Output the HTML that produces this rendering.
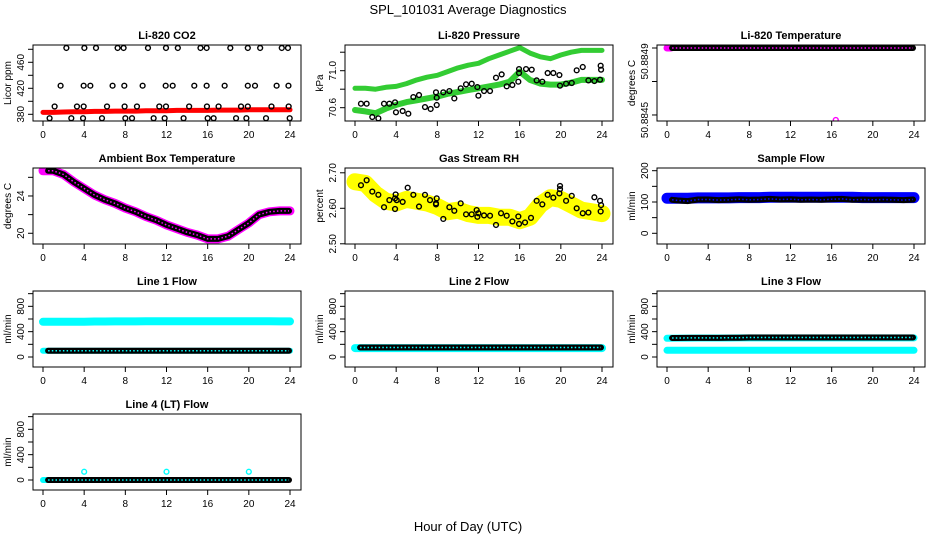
<!DOCTYPE html>
<html><head><meta charset="utf-8"><style>
html,body{margin:0;padding:0;background:#fff;}
svg{display:block;font-family:"Liberation Sans",Arial,sans-serif;}
</style></head><body>
<svg id="chart" width="936" height="540" viewBox="0 0 936 540" xmlns="http://www.w3.org/2000/svg">
<text x="468" y="14" text-anchor="middle" font-size="13">SPL_101031  Average Diagnostics</text>
<text x="468" y="531" text-anchor="middle" font-size="13">Hour of Day (UTC)</text>
</svg>
<script>
const hours=[0,1,2,3,4,5,6,7,8,9,10,11,12,13,14,15,16,17,18,19,20,21,22,23,24];
const hoursB=[0.5,1,2,3,4,5,6,7,8,9,10,11,12,13,14,15,16,17,18,19,20,21,22,23,23.9];
const xTicks=[0,4,8,12,16,20,24];
// CO2
const co2Red=[383,383,383.5,384,384,384.5,384.5,385,385,385,385.5,385.5,385.5,386,386,386,386,386.5,386.5,386.5,387,387,387,387,387];
const co2T=[2.27,4.02,5.15,7.25,7.83,10.2,11.95,13.1,15.3,15.9,18.2,19.9,21.1,23.2,23.8,
1.71,3.95,4.6,6.76,7.9,9.68,11.92,12.6,14.7,15.9,17.65,19.9,20.6,22.7,23.85,
1.13,3.3,3.95,6.22,7.93,9.13,11.3,11.95,14.2,15.93,17.06,19.24,19.9,22.2,23.87,
0.64,2.75,3.89,5.73,8.0,8.65,10.75,11.82,13.66,16.0,16.58,18.76,19.76,21.67,23.97];
const co2V=[482,482,482,482,482,482,482,482,482,482,482,482,482,482,482,
424,424,424,424,424,424,424,424,424,424,424,424,424,424,424,
392,392,392,392,392,392,392,392,392,392,392,392,392,392,392,
374,374,374,374,374,374,374,374,374,374,374,374,374,374,374];
// Pressure
const presUpper=[70.81,70.81,70.80,70.82,70.83,70.86,70.90,70.93,70.95,70.99,71.03,71.06,71.08,71.13,71.17,71.21,71.25,71.19,71.15,71.13,71.17,71.20,71.22,71.22,71.22];
const presLower=[70.575,70.56,70.54,70.59,70.63,70.66,70.68,70.70,70.72,70.75,70.77,70.79,70.81,70.83,70.85,70.88,70.99,70.90,70.86,70.85,70.85,70.87,70.90,70.90,70.90];
const presT=[0.58,1.13,1.68,2.27,2.82,3.34,3.89,3.98,4.63,5.18,5.67,6.22,6.8,7.35,7.87,7.94,7.94,8.58,9.17,9.65,10.27,10.79,11.34,11.89,11.99,12.54,13.12,13.7,14.25,14.74,15.29,15.87,15.94,15.94,16.62,17.17,17.65,18.2,18.72,19.27,19.86,19.92,20.51,21.06,21.54,22.13,22.68,23.26,23.81,23.87,23.91];
const presV=[70.643,70.643,70.499,70.485,70.643,70.643,70.658,70.55,70.564,70.535,70.715,70.737,70.607,70.586,70.766,70.629,70.708,70.766,70.78,70.70,70.809,70.852,70.859,70.823,70.73,70.78,70.78,70.924,70.96,70.831,70.845,70.881,71.018,70.975,71.018,71.011,70.895,70.881,70.975,70.975,70.953,70.838,70.859,70.867,71.004,71.04,70.895,70.888,70.903,71.054,71.011];
// Li-820 temperature
const tempLi=[50.8849,50.8849,50.8849,50.8849,50.8849,50.8849,50.8849,50.8849,50.8849,50.8849,50.8849,50.8849,50.8849,50.8849,50.8849,50.8849,50.8849,50.8849,50.8849,50.8849,50.8849,50.8849,50.8849,50.8849,50.8849];
const tempOutT=[16.4];
const tempOutV=[50.88447];
// Ambient
const ambient=[26.7,26.7,26.3,25.5,24.8,24.1,23.6,23.2,22.7,22.3,21.8,21.4,20.9,20.5,20.1,19.8,19.4,19.4,19.7,20.4,21.1,22.0,22.3,22.4,22.4];
// RH
const rhBand=[2.675,2.67,2.64,2.62,2.615,2.625,2.62,2.615,2.605,2.59,2.595,2.585,2.58,2.58,2.575,2.575,2.565,2.575,2.61,2.63,2.625,2.61,2.595,2.59,2.585];
const rhT=[0.58,1.13,1.68,2.27,2.82,3.34,3.89,3.95,3.89,4.05,4.63,5.12,5.67,6.22,6.8,7.29,7.87,7.94,7.87,8.58,9.17,9.65,10.27,10.79,11.34,11.82,11.89,11.99,12.54,13.12,13.7,14.19,14.74,15.29,15.87,15.94,16.52,17.1,17.65,18.2,18.72,19.27,19.86,19.92,19.92,20.51,21.06,21.54,22.13,22.68,23.26,23.81,23.87,23.91];
const rhV=[2.665,2.679,2.647,2.638,2.603,2.623,2.628,2.639,2.598,2.623,2.618,2.658,2.638,2.605,2.638,2.623,2.614,2.628,2.611,2.570,2.603,2.593,2.614,2.583,2.583,2.595,2.576,2.586,2.580,2.579,2.553,2.586,2.579,2.563,2.577,2.556,2.560,2.573,2.621,2.611,2.638,2.630,2.642,2.654,2.663,2.621,2.635,2.600,2.586,2.588,2.631,2.621,2.591,2.609];
// Flows
const sampleBlue=[112,112,112,113,113,113,113,114,114,114,115,115,115,115,115,115,115,115,115,114,114,114,114,114,114];
const sampleBlack=[107,105,103,108,108,106,107,109,107,108,110,108,109,107,108,107,109,110,107,108,107,108,107,106,108];
const line1Upper=[555,555,556,558,558,560,560,562,562,562,563,563,563,563,564,564,564,564,564,563,563,563,563,562,562];
const line1Lower=[100,100,100,100,100,100,100,100,100,100,100,100,100,100,100,100,100,100,100,100,100,100,100,100,100];
const line1Black=[100,100,100,100,100,100,100,100,100,100,100,100,100,100,100,100,100,100,100,100,100,100,100,100,100];
const line2Cyan=[140,140,140,140,140,140,140,140,140,140,140,140,140,140,140,140,140,140,140,140,140,140,140,140,140];
const line2Black=[150,150,150,150,150,150,150,150,150,150,150,150,150,150,150,150,150,150,150,150,150,150,150,150,150];
const line3Upper=[295,298,298,300,300,300,300,302,302,302,302,302,302,302,302,302,302,302,302,302,302,302,302,302,302];
const line3Lower=[105,105,105,105,105,105,105,105,105,105,105,105,105,105,105,105,105,105,105,105,105,105,105,105,105];
const line3Black=[300,300,302,302,302,302,305,305,308,308,308,308,308,308,308,308,308,308,308,308,308,308,308,308,308];
const line4Cyan=[0,0,0,0,0,0,0,0,0,0,0,0,0,0,0,0,0,0,0,0,0,0,0,0,0];
const line4Black=[0,0,0,0,0,0,0,0,0,0,0,0,0,0,0,0,0,0,0,0,0,0,0,0,0];
const line4OutT=[4,12,20];
const line4OutV=[130,130,130];

const svg=document.getElementById('chart');
const NS='http://www.w3.org/2000/svg';
const colLeft=[33,345,657], rowTop=[45,168,291,414], BW=268, BH=76;
function mk(tag,attrs,parent){const e=document.createElementNS(NS,tag);for(const k in attrs)e.setAttribute(k,attrs[k]);(parent||svg).appendChild(e);return e;}

function panel(cfg){
  const g=mk('g',{});
  
  
  const L=colLeft[cfg.col], T=rowTop[cfg.row], R=L+BW, B=T+BH;
  const x0=L+10, x24=L+257;
  const X=h=>x0+(x24-x0)*h/24;
  const Y=v=>B-(v-cfg.ymin)/(cfg.ymax-cfg.ymin)*BH;
  const t=mk('text',{x:(L+R)/2,y:T-6,'text-anchor':'middle','font-size':11,'font-weight':'bold'},g);
  t.textContent=cfg.title;
  
  
  const yl=mk('text',{transform:`translate(${L-22},${(T+B)/2}) rotate(-90)`,'text-anchor':'middle','font-size':10},g);
  yl.textContent=cfg.ylab;
  
  
  cfg.yTicks.forEach(v=>{const y=Y(v);const tk=mk('line',{x1:L-5,x2:L,y1:y,y2:y,stroke:'#000','stroke-width':1},g);
    
    });
  cfg.yLabels.forEach((s,i)=>{const y=Y(cfg.yLabelVals[i]);const tl=mk('text',{transform:`translate(${L-9},${y}) rotate(-90)`,'text-anchor':'middle','font-size':10},g);
    tl.textContent=s;
    
    });
  xTicks.forEach(h=>{const x=X(h);const tk=mk('line',{x1:x,x2:x,y1:B,y2:B+5,stroke:'#000','stroke-width':1},g);
    
    
    const tl=mk('text',{x:x,y:B+17,'text-anchor':'middle','font-size':10},g);
    tl.textContent=h;
    
    });
  const clipId='c'+cfg.col+cfg.row;
  const cp=mk('clipPath',{id:clipId},g);mk('rect',{x:L,y:T,width:BW,height:BH},cp);
  const pg=mk('g',{'clip-path':`url(#${clipId})`},g);
  
  
  (cfg.bands||[]).forEach(bd=>{
    const pts=bd.t.map((h,i)=>X(h).toFixed(1)+','+Y(bd.v[i]).toFixed(1)).join(' ');
    const pl=mk('polyline',{points:pts,fill:'none',stroke:bd.color,'stroke-width':bd.w,'stroke-linejoin':'round','stroke-linecap':'round'},pg);
    
    
  });
  (cfg.chains||[]).forEach(ch=>{
    const pts=ch.t.map((h,i)=>X(h).toFixed(1)+','+Y(ch.v[i]).toFixed(1)).join(' ');
    const pl=mk('polyline',{points:pts,fill:'none',stroke:'#000','stroke-width':6,'stroke-linecap':'round'},pg);
    
    
    const pw=mk('polyline',{points:pts,fill:'none',stroke:ch.inner||'#fff','stroke-width':1.5,'stroke-dasharray':'1.5 2.2'},pg);
    
    
  });
  (cfg.points||[]).forEach(ps=>{
    ps.t.forEach((h,i)=>{const c=mk('circle',{cx:X(h),cy:Y(ps.v[i]),r:2.4,fill:'none',stroke:ps.color,'stroke-width':1.4},pg);
      
      });
  });
  const box=mk('rect',{x:L,y:T,width:BW,height:BH,fill:'none',stroke:'#000','stroke-width':1},g);
  
  
}
const flowTicks=[0,200,400,600,800,1000];
const flowCommon={ymin:-158,ymax:1042,ylab:'ml/min',yTicks:flowTicks,yLabels:['0','400','800'],yLabelVals:[0,400,800]};

panel({name:'co2-panel',col:0,row:0,title:'Li-820 CO2',ylab:'Licor ppm',ymin:369.7,ymax:486.6,yTicks:[380,400,420,440,460,480],yLabels:['380','420','460'],yLabelVals:[380,420,460],
  bands:[{name:'co2-red-band',t:hours,v:co2Red,color:'#ff0000',w:5}],
  points:[{name:'co2-point',t:co2T,v:co2V,color:'#000'}]});
panel({name:'pressure-panel',col:1,row:0,title:'Li-820 Pressure',ylab:'kPa',ymin:70.456,ymax:71.278,yTicks:[70.6,70.8,71.0,71.2],yLabels:['70.6','71.0'],yLabelVals:[70.6,71.0],
  bands:[{name:'pressure-upper-band',t:hours,v:presUpper,color:'#33cc33',w:5},{name:'pressure-lower-band',t:hours,v:presLower,color:'#33cc33',w:6}],
  points:[{name:'pressure-point',t:presT,v:presV,color:'#000'}]});
panel({name:'li820-temperature-panel',col:2,row:0,title:'Li-820 Temperature',ylab:'degrees C',ymin:50.884464,ymax:50.884918,yTicks:[50.8849,50.8847,50.8845],yLabels:['50.8849','50.8845'],yLabelVals:[50.88482,50.88447],
  bands:[{name:'temperature-magenta-band',t:[0,0.4],v:[50.8849,50.8849],color:'#ff00ff',w:7}],
  chains:[{name:'temperature-chain',t:hoursB,v:tempLi,inner:'#ff00ff'}],
  points:[{name:'temperature-outlier',t:tempOutT,v:tempOutV,color:'#ff00ff'}]});
panel({name:'ambient-panel',col:0,row:1,title:'Ambient Box Temperature',ylab:'degrees C',ymin:18.85,ymax:27.0,yTicks:[20,22,24,26],yLabels:['20','24'],yLabelVals:[20,24],
  bands:[{name:'ambient-magenta-band',t:hours,v:ambient,color:'#ff00ff',w:9}],
  chains:[{name:'ambient-chain',t:hoursB,v:ambient,inner:'#ff00ff'}]});
panel({name:'rh-panel',col:1,row:1,title:'Gas Stream RH',ylab:'percent',ymin:2.4994,ymax:2.7135,yTicks:[2.5,2.6,2.7],yLabels:['2.50','2.60','2.70'],yLabelVals:[2.5,2.6,2.7],
  bands:[{name:'rh-yellow-band',t:hours,v:rhBand,color:'#ffff00',w:17}],
  points:[{name:'rh-point',t:rhT,v:rhV,color:'#000'}]});
panel({name:'sample-flow-panel',col:2,row:1,title:'Sample Flow',ylab:'ml/min',ymin:-34.2,ymax:208.6,yTicks:[0,50,100,150,200],yLabels:['0','100','200'],yLabelVals:[0,100,200],
  bands:[{name:'sample-blue-band',t:hours,v:sampleBlue,color:'#0000ff',w:11}],
  chains:[{name:'sample-chain',t:hoursB,v:sampleBlack,inner:'#0000ff'}]});
panel(Object.assign({name:'line1-panel',col:0,row:2,title:'Line 1 Flow',
  bands:[{name:'line1-upper-band',t:hours,v:line1Upper,color:'#00ffff',w:8},{name:'line1-lower-band',t:hours,v:line1Lower,color:'#00ffff',w:6}],
  chains:[{name:'line1-chain',t:hoursB,v:line1Black,inner:'#00ffff'}]},flowCommon));
panel(Object.assign({name:'line2-panel',col:1,row:2,title:'Line 2 Flow',
  bands:[{name:'line2-cyan-band',t:hours,v:line2Cyan,color:'#00ffff',w:8}],
  chains:[{name:'line2-chain',t:hoursB,v:line2Black,inner:'#00ffff'}]},flowCommon));
panel(Object.assign({name:'line3-panel',col:2,row:2,title:'Line 3 Flow',
  bands:[{name:'line3-upper-band',t:hours,v:line3Upper,color:'#00ffff',w:7},{name:'line3-lower-band',t:hours,v:line3Lower,color:'#00ffff',w:7}],
  chains:[{name:'line3-chain',t:hoursB,v:line3Black,inner:'#00ffff'}]},flowCommon));
panel(Object.assign({name:'line4-panel',col:0,row:3,title:'Line 4 (LT) Flow',
  bands:[{name:'line4-cyan-band',t:[0,0.5],v:[line4Cyan[0],line4Cyan[0]],color:'#00ffff',w:6}],
  chains:[{name:'line4-chain',t:hoursB,v:line4Black,inner:'#00ffff'}],
  points:[{name:'line4-outlier',t:line4OutT,v:line4OutV,color:'#00ffff'}]},flowCommon));
</script>
</body></html>
